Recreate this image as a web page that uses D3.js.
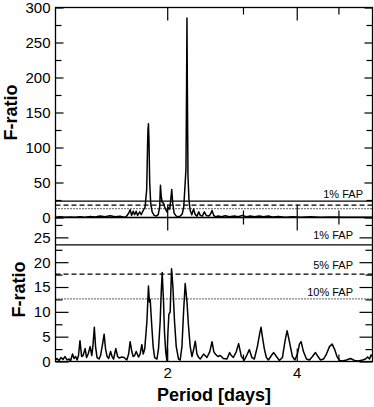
<!DOCTYPE html>
<html>
<head>
<meta charset="utf-8">
<script src="https://cdn.jsdelivr.net/npm/d3@7"></script>
<style>
body { margin: 0; background: #fff; }
svg { display: block; font-family: "Liberation Sans", Arial, Helvetica, sans-serif; }
.tickLabel text { font-size: 15px; fill: #000; }
.axisTitle { font-size: 18px; font-weight: bold; }
.fapText { font-size: 11px; }
</style>
</head>
<body>
<div id="chart"></div>
<script>
// full periodogram (top) and the zoomed-in one (bottom), period in days
var topPeriods = [1.100, 1.127, 1.158, 1.189, 1.221, 1.254, 1.289, 1.324, 1.359, 1.396, 1.434, 1.473, 1.513, 1.554, 1.588,
    1.605, 1.627, 1.640, 1.653, 1.667, 1.680, 1.694, 1.707, 1.726, 1.740, 1.759, 1.777, 1.792, 1.800, 1.804, 1.809,
    1.814, 1.821, 1.831, 1.845, 1.865, 1.885, 1.906, 1.921, 1.929, 1.937, 1.947, 1.963, 1.973, 1.997, 2.011, 2.027,
    2.038, 2.049, 2.060, 2.076, 2.099, 2.121, 2.144, 2.167, 2.185, 2.202, 2.211, 2.218, 2.223, 2.228, 2.235, 2.247,
    2.262, 2.281, 2.303, 2.324, 2.345, 2.368, 2.387, 2.413, 2.439, 2.465, 2.492, 2.518, 2.542, 2.566, 2.587, 2.629,
    2.671, 2.729, 2.789, 2.864, 2.926, 2.990, 3.055, 3.121, 3.188, 3.275, 3.346, 3.437, 3.512, 3.626, 3.765, 3.909,
    4.080, 4.305, 4.542, 4.792, 5.193, 5.628, 6.000];
var topFratio = [0.5, 1.0, 0.3, 0.8, 0.4, 1.2, 0.5, 1.5, 0.8, 2.0, 1.0, 2.5, 1.0, 1.8, 0.5,
    1.0, 6, 11, 3, 9, 4, 9, 3, 8, 4, 10, 15, 40, 100, 125, 134,
    110, 50, 20, 8, 3, 2, 4, 15, 46, 30, 22, 20, 15, 8, 14, 12,
    25, 40, 20, 6, 2, 1, 2, 5, 15, 50, 69, 180, 285, 180, 60, 25,
    10, 4, 12, 4, 2, 8, 3, 2, 8, 3, 2, 4, 10, 3, 1, 2,
    1, 2.5, 1, 2, 1, 3, 1, 2, 1, 2, 1, 2, 0.8, 1.5, 0.5, 1,
    0.5, 1, 0.3, 0.8, 0.2, 0.5, 0.3];

var bottomPeriods = [1.100, 1.109, 1.121, 1.133, 1.145, 1.158, 1.170, 1.183, 1.192, 1.205, 1.215, 1.225, 1.235, 1.244,
    1.254, 1.265, 1.275, 1.289, 1.299, 1.310, 1.324, 1.336, 1.345, 1.354, 1.363, 1.374, 1.389, 1.400, 1.415, 1.427,
    1.438, 1.450, 1.462, 1.477, 1.489, 1.501, 1.519, 1.534, 1.546, 1.569, 1.588, 1.611, 1.627, 1.640, 1.655, 1.667,
    1.680, 1.694, 1.715, 1.730, 1.746, 1.759, 1.773, 1.794, 1.809, 1.818, 1.826, 1.842, 1.855, 1.870, 1.893, 1.909,
    1.926, 1.937, 1.947, 1.961, 1.971, 1.984, 1.997, 2.008, 2.018, 2.032, 2.047, 2.062, 2.080, 2.099, 2.125, 2.144,
    2.164, 2.183, 2.202, 2.223, 2.242, 2.262, 2.283, 2.305, 2.324, 2.345, 2.368, 2.387, 2.430, 2.474, 2.512, 2.542,
    2.566, 2.587, 2.622, 2.657, 2.700, 2.754, 2.793, 2.819, 2.849, 2.895, 2.931, 2.974, 3.022, 3.063, 3.104, 3.146,
    3.188, 3.240, 3.284, 3.305, 3.328, 3.364, 3.400, 3.437, 3.493, 3.536, 3.588, 3.646, 3.705, 3.755, 3.799, 3.836,
    3.867, 3.909, 3.961, 4.015, 4.058, 4.095, 4.146, 4.214, 4.282, 4.351, 4.422, 4.482, 4.542, 4.616, 4.690, 4.766,
    4.836, 4.896, 4.962, 5.029, 5.111, 5.221, 5.334, 5.450, 5.568, 5.689, 5.781, 5.844, 5.906, 5.953, 6.000];
var bottomFratio = [0.3, 0.6, 0.2, 0.8, 0.4, 1.0, 0.3, 0.5, 0.1, 1.5, 0.6, 1.0, 0.3, 1.2,
    4.2, 1.0, 1.2, 2.6, 0.8, 1.5, 3.0, 1.2, 3.5, 6.9, 3.0, 0.8, 0.5, 1.2, 3.5, 5.5,
    2.5, 1.0, 0.6, 2.0, 1.0, 0.5, 2.6, 1.0, 0.7, 0.9, 0.8, 0.3, 1.5, 4.0, 2.0, 1.0,
    1.2, 2.0, 0.9, 1.5, 3.4, 1.5, 2.5, 8.0, 15.2, 12.0, 12.5, 7.0, 3.0, 0.8, 0.5, 2.6,
    8.0, 14, 17.9, 12.0, 6.0, 2.0, 0.1, 6.0, 9.5, 10.0, 18.7, 15.0, 8.0, 3.0, 0.5, 0.3,
    3.0, 10.0, 15.7, 12.0, 7.0, 3.0, 1.0, 2.5, 4.1, 1.5, 0.8, 0.5, 1.5, 0.8, 2.0, 4.0,
    2.0, 1.5, 1.0, 1.2, 0.6, 0.5, 1.8, 1.2, 0.8, 2.0, 3.6, 1.0, 0.3, 1.3, 2.4, 0.8,
    0.5, 3.0, 5.8, 6.9, 5.0, 2.5, 0.8, 0.3, 1.2, 1.8, 1.0, 0.2, 0.8, 4.0, 6.2, 4.5,
    3.0, 1.0, 0.3, 1.5, 3.5, 4.0, 2.0, 0.5, 0.3, 1.0, 1.8, 1.0, 0.3, 0.5, 1.5, 3.0,
    3.5, 2.5, 1.0, 0.2, 0.1, 0.3, 0.6, 0.2, 0.1, 0.3, 0.5, 0.9, 0.5, 1.3, 1.0];

// false alarm probability levels (same in both panels)
var fapLevels = [23.5, 17.6, 12.6];
var fapNames = ["1% FAP", "5% FAP", "10% FAP"];
var fapDash = [null, "5,3", "1,2"];

var periodDomain = [1.1, 6];
var xMajorTicks = [2, 4];
var xMinorTicks = [3, 5];
var topMajorTicks = [0, 50, 100, 150, 200, 250, 300];
var topMinorTicks = [25, 75, 125, 175, 225, 275];
var bottomMajorTicks = [0, 5, 10, 15, 20, 25];
var bottomMinorTicks = [2.5, 7.5, 12.5, 17.5, 22.5, 27.5];

var width = 374, height = 407;
var left = 55.5, right = 372.5;

var svg = d3.select("#chart").append("svg")
    .attr("width", width)
    .attr("height", height);
svg.append("rect").attr("width", width).attr("height", height).attr("fill", "#fff");

var xScale = d3.scaleLog().domain(periodDomain).range([left, right]);

/**
 * One periodogram panel: frame, ticks, FAP lines and the curve
 */
function PeriodPanel(opts){
    var self = this;
    self.opts = opts;
    self.init();
};

PeriodPanel.prototype.init = function(){
    var self = this;
    var o = self.opts;
    self.g = svg.append("g");
    self.yScale = d3.scaleLinear().domain(o.yDomain).range([o.bottom, o.top]);

    self.g.append("clipPath").attr("id", o.id + "-clip")
        .append("rect")
        .attr("x", left).attr("y", o.top)
        .attr("width", right - left).attr("height", o.bottom - o.top);
};

PeriodPanel.prototype.tickAxis = function(axis, tx, ty, cls){
    var self = this;
    var g = self.g.append("g")
        .attr("transform", "translate(" + tx + "," + ty + ")")
        .attr("class", cls || "")
        .call(axis);
    g.select(".domain").remove();
    g.selectAll("line").attr("stroke", "#000").attr("stroke-width", 1.2);
    return g;
};

PeriodPanel.prototype.update = function(periods, values){
    var self = this;
    var o = self.opts;
    var y = self.yScale;

    // y ticks: labelled on the left, mirrored on the right
    var yl = self.tickAxis(d3.axisLeft(y).tickValues(o.yMajor).tickSizeInner(-o.yMajorLen).tickSizeOuter(0).tickPadding(5)
        .tickFormat(d3.format("d")), left, 0, "tickLabel");
    yl.selectAll("text").attr("font-family", null).attr("font-size", null);
    self.tickAxis(d3.axisLeft(y).tickValues(o.yMinor).tickSizeInner(-o.yMinorLen).tickSizeOuter(0).tickFormat(""), left, 0);
    self.tickAxis(d3.axisLeft(y).tickValues(o.yMajor).tickSizeInner(o.yMajorLen).tickSizeOuter(0).tickFormat(""), right, 0);
    self.tickAxis(d3.axisLeft(y).tickValues(o.yMinor).tickSizeInner(o.yMinorLen).tickSizeOuter(0).tickFormat(""), right, 0);

    // x ticks on the top and bottom edges, pointing inwards
    self.tickAxis(d3.axisBottom(xScale).tickValues(xMajorTicks).tickSizeInner(13).tickSizeOuter(0).tickFormat(""), 0, o.top);
    self.tickAxis(d3.axisBottom(xScale).tickValues(xMinorTicks).tickSizeInner(7).tickSizeOuter(0).tickFormat(""), 0, o.top);
    var xb = self.tickAxis(d3.axisBottom(xScale).tickValues(xMajorTicks).tickSizeInner(-13).tickSizeOuter(0).tickPadding(6)
        .tickFormat(o.xLabels ? d3.format("d") : ""), 0, o.bottom, "tickLabel");
    xb.selectAll("text").attr("font-family", null).attr("font-size", null);
    self.tickAxis(d3.axisBottom(xScale).tickValues(xMinorTicks).tickSizeInner(-7).tickSizeOuter(0).tickFormat(""), 0, o.bottom);

    // FAP levels
    var shown = o.fapShown;
    self.g.selectAll(".fap").data(shown).enter().append("line")
        .attr("class", "fap")
        .attr("x1", left).attr("x2", right)
        .attr("y1", (i)=>y(fapLevels[i])).attr("y2", (i)=>y(fapLevels[i]))
        .attr("stroke", "#000")
        .attr("stroke-width", 1.2)
        .attr("stroke-dasharray", (i)=>fapDash[i]);
    self.g.selectAll(".fapText").data(o.fapLabelled).enter().append("text")
        .attr("class", "fapText")
        .attr("x", o.fapX)
        .attr("y", (i)=>y(fapLevels[i]) - o.fapGap[i])
        .attr("text-anchor", "end")
        .text((i)=>fapNames[i]);

    // the periodogram itself
    var rows = d3.zip(periods, values);
    var line = d3.line()
        .x((d)=>xScale(d[0]))
        .y((d)=>y(d[1]));
    self.g.append("path")
        .datum(rows)
        .attr("clip-path", "url(#" + o.id + "-clip)")
        .attr("d", line)
        .attr("fill", "none")
        .attr("stroke", "#000")
        .attr("stroke-width", 1.5)
        .attr("stroke-linejoin", "round");

    // frame
    self.g.append("rect")
        .attr("x", left).attr("y", o.top)
        .attr("width", right - left).attr("height", o.bottom - o.top)
        .attr("fill", "none")
        .attr("stroke", "#000")
        .attr("stroke-width", 1.3);

    self.g.append("text")
        .attr("class", "axisTitle")
        .attr("text-anchor", "middle")
        .attr("transform", "translate(" + o.titleX + "," + ((o.top + o.bottom) / 2) + ") rotate(-90)")
        .text("F-ratio");
};

var bottomPanel = new PeriodPanel({
    id: "bottom", top: 217.5, bottom: 361.5, yDomain: [0, 29],
    yMajor: bottomMajorTicks, yMinor: bottomMinorTicks, yMajorLen: 13, yMinorLen: 7,
    xLabels: true, fapShown: [0, 1, 2], fapLabelled: [0, 1, 2], fapX: 353, fapGap: [5.5, 5.5, 3],
    titleX: 25
});
bottomPanel.update(bottomPeriods, bottomFratio);

var topPanel = new PeriodPanel({
    id: "top", top: 7.5, bottom: 217.5, yDomain: [0, 300],
    yMajor: topMajorTicks, yMinor: topMinorTicks, yMajorLen: 8, yMinorLen: 6,
    xLabels: false, fapShown: [0, 1, 2], fapLabelled: [0], fapX: 363, fapGap: [3.5],
    titleX: 17
});
topPanel.update(topPeriods, topFratio);

svg.append("text")
    .attr("class", "axisTitle")
    .attr("x", (left + right) / 2)
    .attr("y", 401)
    .attr("text-anchor", "middle")
    .text("Period [days]");
</script>
</body>
</html>
